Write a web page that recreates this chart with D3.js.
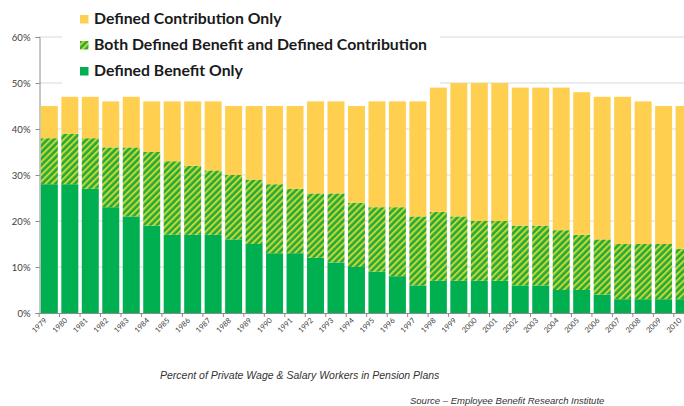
<!DOCTYPE html>
<html><head><meta charset="utf-8">
<script src="https://cdn.jsdelivr.net/npm/d3@7/dist/d3.min.js"></script>
<style>html,body{margin:0;padding:0;background:#fff;overflow:hidden}</style>
</head><body>
<svg id="c" width="684" height="406"></svg>
<script>
const years = ["1979","1980","1981","1982","1983","1984","1985","1986","1987","1988","1989","1990","1991","1992","1993","1994","1995","1996","1997","1998","1999","2000","2001","2002","2003","2004","2005","2006","2007","2008","2009","2010"];
const dbOnly = [28,28,27,23,21,19,17,17,17,16,15,13,13,12,11,10,9,8,6,7,7,7,7,6,6,5,5,4,3,3,3,3];
const both   = [10,11,11,13,15,16,16,15,14,14,14,15,14,14,15,14,14,15,15,15,14,13,13,13,13,13,12,12,12,12,12,11];
const dcOnly = [7,8,9,10,11,11,13,14,15,15,16,17,18,20,20,21,23,23,25,27,29,30,30,30,30,31,31,31,32,31,30,31];
const yTicks = [0,10,20,30,40,50,60];
const legendLabels = ["Defined Contribution Only","Both Defined Benefit and Defined Contribution","Defined Benefit Only"];
const caption = "Percent of Private Wage & Salary Workers in Pension Plans";
const source = "Source \u2013  Employee Benefit Research Institute";

const svg = d3.select("#c");
const YEL = "#FFD050", GRN = "#00B050";
const defs = svg.append("defs");
const pat = defs.append("pattern").attr("id","hatch").attr("patternUnits","userSpaceOnUse")
  .attr("width",4.6).attr("height",4.6).attr("patternTransform","rotate(45)");
pat.append("rect").attr("width",4.6).attr("height",4.6).attr("fill","#22A83C");
pat.append("rect").attr("width",2.1).attr("height",4.6).attr("fill","#C4D732");

const x = d3.scaleBand().domain(years).range([39, 694.4]).paddingInner(0.17).paddingOuter(0.09);
const y = d3.scaleLinear().domain([0,60]).range([313,37]);

// gridlines
svg.append("g").selectAll("line").data(yTicks.filter(d=>d>0)).join("line")
  .attr("x1",39).attr("x2",684).attr("y1",d=>y(d)).attr("y2",d=>y(d))
  .attr("stroke","#d9d9d9").attr("stroke-width",1);

// legend background
svg.append("rect").attr("x",62).attr("y",0).attr("width",378).attr("height",86).attr("fill","#fff");

// y axis
const yAxis = d3.axisLeft(y).tickValues(yTicks).tickFormat(d=>d+"%").tickSize(4).tickPadding(5);
const ga = svg.append("g").attr("transform","translate(39.5,0)").call(yAxis);
ga.select(".domain").attr("stroke","#8c8c8c");
ga.selectAll(".tick line").attr("stroke","#8c8c8c");
ga.selectAll(".tick text").attr("font-family","Lato, sans-serif").attr("font-size","9.5px").attr("fill","#404040");

// bars
const stack = years.map((yr,i)=>({yr, db:dbOnly[i], both:both[i], dc:dcOnly[i]}));
const g = svg.append("g");
g.selectAll(".db").data(stack).join("rect")
  .attr("x",d=>x(d.yr)).attr("width",x.bandwidth())
  .attr("y",d=>y(d.db)).attr("height",d=>y(0)-y(d.db)).attr("fill",GRN);
g.selectAll(".both").data(stack).join("rect")
  .attr("x",d=>x(d.yr)).attr("width",x.bandwidth())
  .attr("y",d=>y(d.db+d.both)).attr("height",d=>y(d.db)-y(d.db+d.both)).attr("fill","url(#hatch)");
g.selectAll(".dc").data(stack).join("rect")
  .attr("x",d=>x(d.yr)).attr("width",x.bandwidth())
  .attr("y",d=>y(d.db+d.both+d.dc)).attr("height",d=>y(d.db+d.both)-y(d.db+d.both+d.dc)).attr("fill",YEL);

// x axis
svg.append("line").attr("x1",39).attr("x2",684).attr("y1",313.5).attr("y2",313.5).attr("stroke","#8c8c8c");
svg.append("g").selectAll("line").data(years).join("line")
  .attr("x1",d=>x(d)-x.step()*x.paddingInner()/2).attr("x2",d=>x(d)-x.step()*x.paddingInner()/2)
  .attr("y1",313).attr("y2",317).attr("stroke","#8c8c8c");
svg.append("g").selectAll("text").data(years).join("text")
  .attr("transform",d=>`translate(${x(d)+x.bandwidth()/2-2},${321}) rotate(-45)`)
  .attr("text-anchor","end").attr("font-family","Lato, sans-serif").attr("font-size","7.5px")
  .attr("fill","#404040").text(d=>d);

// legend
const lg = svg.append("g");
const legY = [24, 50, 76];
const legFill = [YEL, "url(#hatch)", GRN];
legendLabels.forEach((t,i)=>{
  lg.append("rect").attr("x",80).attr("y",legY[i]-9).attr("width",8.5).attr("height",8.5).attr("fill",legFill[i]);
  lg.append("text").attr("x",94).attr("y",legY[i]).attr("font-family","Lato, sans-serif")
    .attr("font-weight","bold").attr("font-size","15.8px").attr("fill","#1a1a1a")
    .attr("textLength", i===1 ? 333 : null).attr("lengthAdjust","spacingAndGlyphs").text(t);
});

// caption & source
svg.append("text").attr("x",160).attr("y",379).attr("font-family","'Liberation Sans', Arial, sans-serif")
  .attr("font-style","italic").attr("font-size","10.5px").attr("fill","#333").text(caption);
svg.append("text").attr("x",410).attr("y",404).attr("font-family","'Liberation Sans', Arial, sans-serif")
  .attr("font-style","italic").attr("font-size","9.5px").attr("fill","#333").text(source);
</script>
</body></html>
